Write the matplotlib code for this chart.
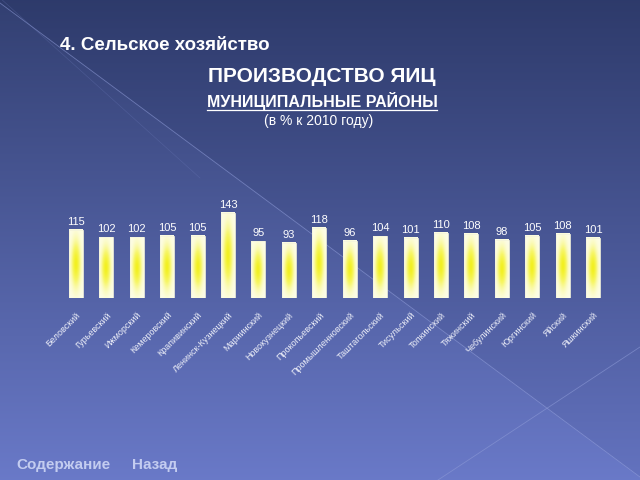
import numpy as np
import matplotlib
matplotlib.use('Agg')
import matplotlib.pyplot as plt
from matplotlib.colors import LinearSegmentedColormap

# district names and egg production (% of 2010)
districts = ['Беловский', 'Гурьевский', 'Ижморский', 'Кемеровский', 'Крапивинский',
             'Ленинск-Кузнецкий', 'Мариинский', 'Новокузнецкий', 'Прокопьевский',
             'Промышленновский', 'Таштагольский', 'Тисульский', 'Топкинский',
             'Тяжинский', 'Чебулинский', 'Юргинский', 'Яйский', 'Яшкинский']
values = [115, 102, 102, 105, 105, 143, 95, 93, 118, 96, 104, 101, 110, 108, 98, 105, 108, 101]

fig = plt.figure(figsize=(6.4, 4.8), dpi=100)

# background gradient
bg = fig.add_axes([0, 0, 1, 1])
yy, xx = np.mgrid[0:480, 0:640]
t = yy / 479.0
top = np.array([0.18, 0.23, 0.42])
bot = np.array([0.39, 0.45, 0.75])
img = top[None, None, :] * (1 - t[..., None]) + bot[None, None, :] * t[..., None]
# lighter region below the diagonal line
below = yy > 0.74 * xx + 3
img = np.where(below[..., None], img * 1.03 + 0.012, img)
img = np.clip(img, 0, 1)
bg.imshow(img, extent=[0, 640, 480, 0], aspect='auto')
bg.plot([0, 640], [3, 477], color='#8d9ad6', lw=0.6, alpha=0.6)
bg.plot([438, 640], [480, 347], color='#8d9ad6', lw=0.6, alpha=0.6)
bg.plot([0, 200], [-2, 178], color='#6f7dbd', lw=0.5, alpha=0.3)
bg.set_xlim(0, 640)
bg.set_ylim(480, 0)
bg.axis('off')

# titles
fig.text(60 / 640, 1 - 45 / 480, '4. Сельское хозяйство', color='white', fontsize=13.5,
         fontweight='bold', family='Liberation Sans', va='center')
fig.text(322 / 640, 1 - 76 / 480, 'ПРОИЗВОДСТВО ЯИЦ', color='white', fontsize=15,
         fontweight='bold', family='Liberation Sans', ha='center', va='center')
fig.text(322 / 640, 1 - 101 / 480, 'МУНИЦИПАЛЬНЫЕ РАЙОНЫ', color='white', fontsize=11.5,
         fontweight='bold', family='Liberation Sans', ha='center', va='center')
fig.lines.append(plt.Line2D([207 / 640, 437 / 640], [1 - 109.5 / 480, 1 - 109.5 / 480],
                            color='white', lw=0.9, transform=fig.transFigure))
fig.text(319 / 640, 1 - 120.5 / 480, '(в % к 2010 году)', color='white', fontsize=10,
         family='Liberation Sans', ha='center', va='center')
fig.text(16 / 640, 1 - 465 / 480, 'Содержание', color='#c3ccf0', fontsize=11,
         fontweight='bold', family='Liberation Sans', va='center')
fig.text(132 / 640, 1 - 465 / 480, 'Назад', color='#c3ccf0', fontsize=11,
         fontweight='bold', family='Liberation Sans', va='center')

# bar chart
ax = fig.add_axes([60.8 / 640, 1 - 298 / 480, 547.4 / 640, 119 / 480])
ax.patch.set_alpha(0)
x = np.arange(len(values))
ax.set_xlim(-0.5, len(values) - 0.5)
ax.set_ylim(0, 200)

gx = np.linspace(-1, 1, 40)
gy = np.linspace(-1, 1, 100)
GX, GY = np.meshgrid(gx, gy)
core = np.exp(-(GX / 0.6) ** 2) * np.exp(-(GY / 0.6) ** 2)
cmap = LinearSegmentedColormap.from_list('wy', ['#fdfde8', '#f7f66a', '#f2f020'])
w = 0.46
for xi, v in zip(x, values):
    ax.imshow(core, cmap=cmap, vmin=0, vmax=1, extent=[xi - w / 2, xi + w / 2, 0, v],
              aspect='auto', origin='lower', zorder=2, interpolation='bilinear')
    ax.bar(xi, v, width=w, facecolor='none', edgecolor='#f4f4dc', lw=0.6, zorder=3)
    ax.text(xi, v + 5, str(v), ha='center', va='bottom', color='white', fontsize=8,
            family='Liberation Sans')

ax.set_xticks(x)
ax.set_xticklabels(districts, rotation=45, ha='right', rotation_mode='anchor',
                   fontsize=6.5, color='#eceef8', family='Liberation Sans')
ax.tick_params(axis='x', length=0, pad=9)
ax.set_yticks([])
for s in ax.spines.values():
    s.set_visible(False)
ax.set_aspect('auto')

fig.savefig('out.png', dpi=100)
